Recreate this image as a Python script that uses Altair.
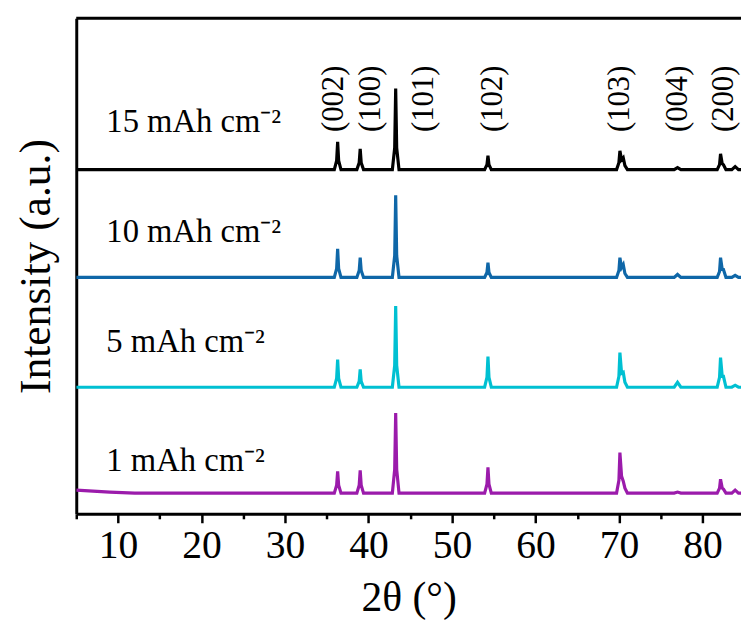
import altair as alt
import pandas as pd

# 2-theta sample points (degrees), shared by all four patterns
two_theta = [5, 7, 9, 12, 20,
             35.9, 36.18, 36.3, 36.42, 36.7,
             38.6, 38.88, 39.0, 39.12, 39.4,
             42.85, 43.13, 43.25, 43.37, 43.65,
             53.9, 54.18, 54.3, 54.42, 54.7,
             69.7, 69.98, 70.1, 70.3, 70.5, 70.7, 71.0,
             76.6, 77.0, 77.4,
             81.75, 82.03, 82.15, 82.35, 82.5, 82.8,
             83.5, 83.9, 84.3, 84.6]

# intensities above each pattern's own baseline (a.u.)
int_15 = [0, 0, 0, 0, 0,
          0, 9, 28, 9, 0,
          0, 7, 21, 7, 0,
          0, 22, 82, 22, 0,
          0, 5, 14, 5, 0,
          0, 7, 19, 10, 12, 4, 0,
          0, 2, 0,
          0, 5, 16, 6, 5, 0,
          0, 3, 0, 0]
int_10 = [0, 0, 0, 0, 0,
          0, 9, 29, 9, 0,
          0, 7, 20, 7, 0,
          0, 22, 83, 22, 0,
          0, 5, 15, 5, 0,
          0, 7, 20, 10, 13, 4, 0,
          0, 3, 0,
          0, 6, 20, 8, 8, 0,
          0, 2, 0, 0]
int_5 = [0, 0, 0, 0, 0,
         0, 9, 28, 9, 0,
         0, 6, 18, 6, 0,
         0, 22, 82, 22, 0,
         0, 10, 31, 10, 0,
         0, 11, 35, 14, 15, 5, 0,
         0, 5, 0,
         0, 10, 30, 11, 11, 0,
         0, 2, 0, 0]
int_1 = [3, 2, 1, 0, 0,
         0, 8, 22, 8, 0,
         0, 8, 23, 8, 0,
         0, 24, 81, 24, 0,
         0, 9, 26, 9, 0,
         0, 13, 41, 17, 12, 5, 0,
         0, 1, 0,
         0, 5, 14, 5, 4, 0,
         0, 3, 0, 0]

series_names = ["15 mAh cm⁻²", "10 mAh cm⁻²", "5 mAh cm⁻²", "1 mAh cm⁻²"]
series_offsets = [348, 239, 128, 21]
series_colors = ["#000000", "#0f67a8", "#00c0d2", "#9b1bab"]
label_x = [8.6, 8.6, 8.6, 8.6]
label_y = [386, 275, 164, 43]

hkl_text = ["(002)", "(100)", "(101)", "(102)", "(103)", "(004)", "(200)"]
hkl_x = [35.87, 40.3, 46.71, 54.89, 70.17, 77.04, 82.61]
hkl_y = [386, 386, 386, 386, 386, 386, 386]

rows = []
for name, off, vals in zip(series_names, series_offsets, [int_15, int_10, int_5, int_1]):
    for i, (t, v) in enumerate(zip(two_theta, vals)):
        rows.append({"theta": t, "intensity": v + off, "series": name, "order": i})
df = pd.DataFrame(rows)

lab_df = pd.DataFrame({"theta": label_x, "intensity": label_y, "text": series_names})
hkl_df = pd.DataFrame({"theta": hkl_x, "intensity": hkl_y, "text": hkl_text})

FONT = "Liberation Serif, Times New Roman, serif"
W, H = 672, 501

xscale = alt.Scale(domain=[5, 84.6], nice=False, zero=False)
yscale = alt.Scale(domain=[0, 501], nice=False, zero=False)

xaxis = alt.Axis(
    title="2θ (°)",
    values=list(range(5, 85, 5)),
    labelExpr="datum.value % 10 === 0 ? datum.label : ''",
    labelOverlap=False,
    tickSize={"condition": {"test": "datum.value % 10 === 0", "value": 9}, "value": 5},
    tickWidth=2.5, tickColor="black",
    domainWidth=3, domainColor="black",
    grid=False,
    labelFont=FONT, labelFontSize=40, labelColor="black", labelPadding=3,
    titleFont=FONT, titleFontSize=42, titleFontWeight="normal", titleColor="black",
    titlePadding=13,
)
yaxis = alt.Axis(
    title="Intensity (a.u.)",
    labels=False, ticks=False, grid=False,
    domainWidth=3, domainColor="black",
    titleFont=FONT, titleFontSize=44, titleFontWeight="normal", titleColor="black",
    titlePadding=18,
)

lines = alt.Chart(df).mark_line(strokeWidth=3.2, clip=True).encode(
    x=alt.X("theta:Q", scale=xscale, axis=xaxis),
    y=alt.Y("intensity:Q", scale=yscale, axis=yaxis),
    color=alt.Color("series:N", scale=alt.Scale(domain=series_names, range=series_colors), legend=None),
    order="order:Q",
)

labels = alt.Chart(lab_df).mark_text(
    font=FONT, fontSize=33, align="left", baseline="alphabetic", color="black"
).encode(x=alt.X("theta:Q", scale=xscale), y=alt.Y("intensity:Q", scale=yscale), text="text:N")

hkl = alt.Chart(hkl_df).mark_text(
    font=FONT, fontSize=31, align="left", baseline="middle", angle=270, color="black"
).encode(x=alt.X("theta:Q", scale=xscale), y=alt.Y("intensity:Q", scale=yscale), text="text:N")

top_border = alt.Chart(pd.DataFrame({"a": [0]})).mark_rule(color="black", strokeWidth=3).encode(
    x=alt.value(0), x2=alt.value(W), y=alt.value(0)
)

chart = alt.layer(lines, labels, hkl, top_border).properties(
    width=W, height=H,
    autosize=alt.AutoSizeParams(type="none"),
    padding={"left": 69, "top": 7, "right": 0, "bottom": 110},
).configure_view(stroke=None).configure(background="white")

chart.save("out.html", embed_options={"renderer": "svg", "actions": False})
